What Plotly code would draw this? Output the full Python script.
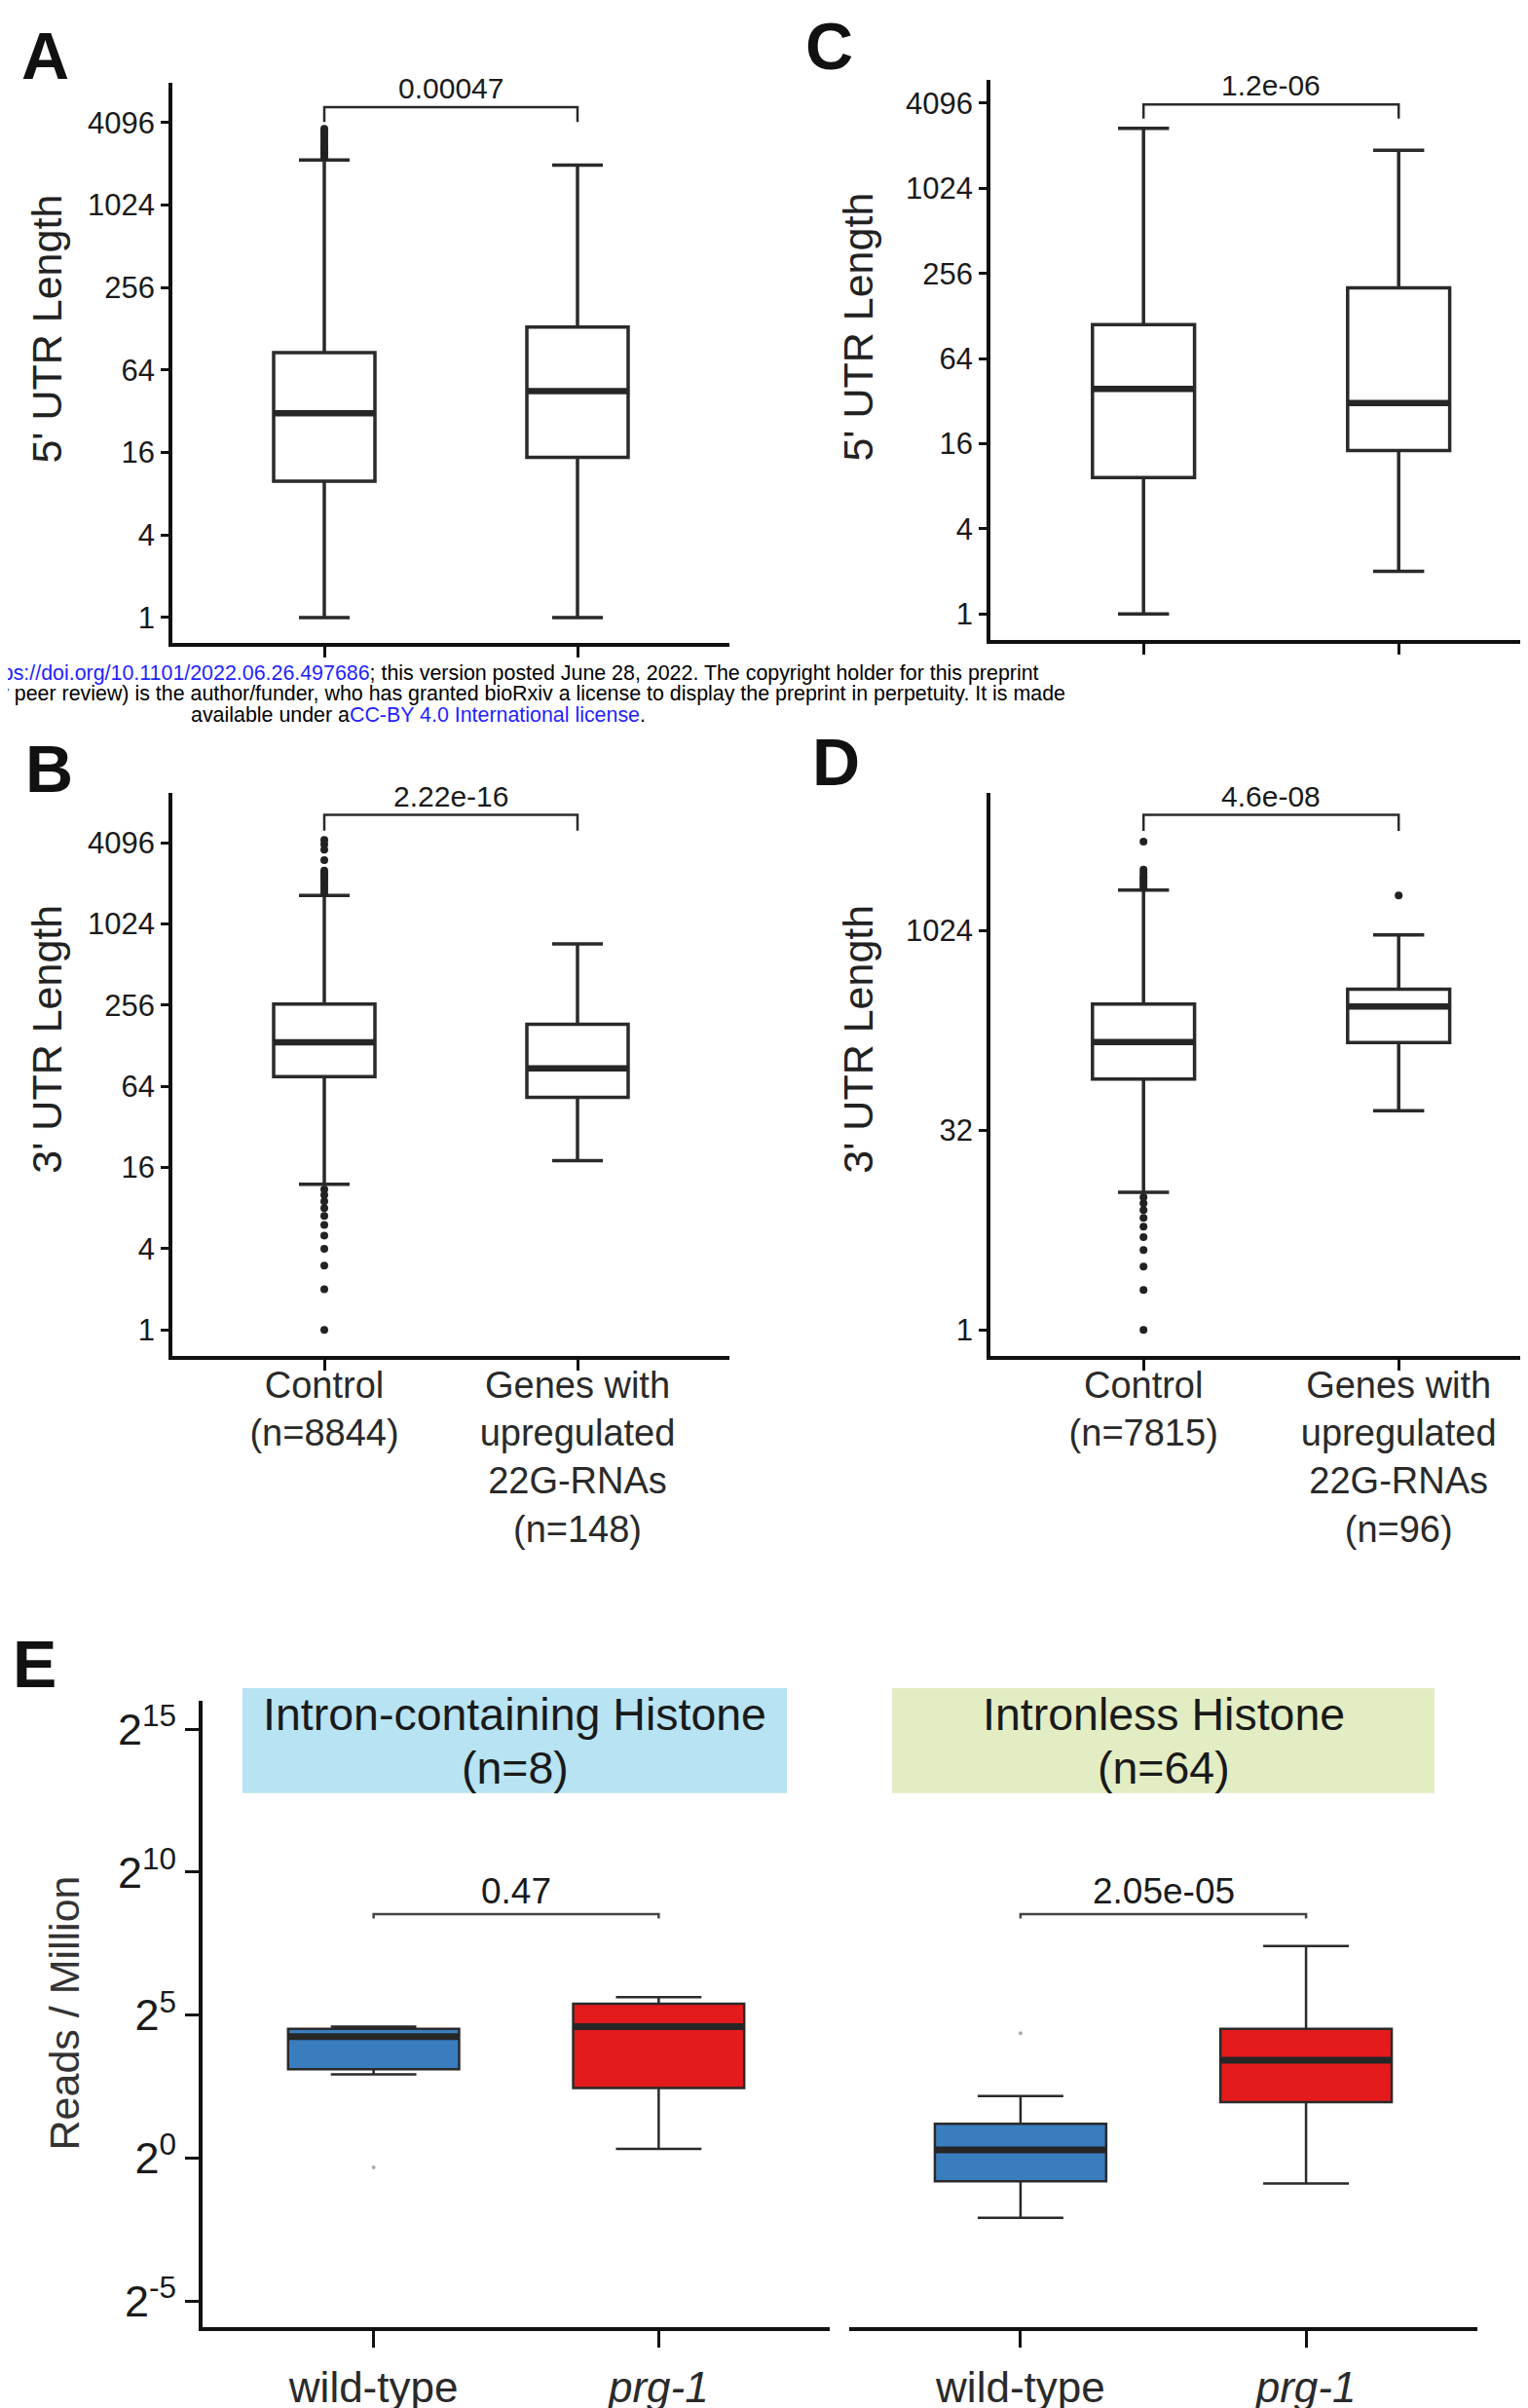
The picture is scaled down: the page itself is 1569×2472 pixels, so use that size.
import math
import plotly.graph_objects as go

# ---------------- DATA ----------------
# Panels A-D: two groups each
groups = ["Control", "Genes with upregulated 22G-RNAs"]

# A: 5' UTR length (set 1)
a_lower = [1, 1]
a_q1 = [9.9, 14.8]
a_median = [31, 45]
a_q3 = [86, 132]
a_upper = [2190, 2010]
a_out_ctrl = [2300, 2400, 2500, 2600, 2700, 2800, 2950, 3100, 3250, 3400, 3550, 3700]
a_out_g2 = []
a_p = "0.00047"

# C: 5' UTR length (set 2)
c_lower = [1, 2]
c_q1 = [9.2, 14.3]
c_median = [39, 31]
c_q3 = [111, 202]
c_upper = [2720, 1900]
c_p = "1.2e-06"

# B: 3' UTR length (set 1)
b_lower = [12, 18]
b_q1 = [75.6, 53]
b_median = [136, 87]
b_q3 = [261, 185]
b_upper = [1670, 730]
b_out_ctrl = [1, 2, 3, 4, 5, 6, 7, 8, 9, 10, 11,
              1750, 1850, 1950, 2050, 2150, 2250, 2350, 2450, 2550, 3050, 3650, 4000, 4300]
b_p = "2.22e-16"
b_labels = ["Control<br>(n=8844)", "Genes with<br>upregulated<br>22G-RNAs<br>(n=148)"]

# D: 3' UTR length (set 2)
d_lower = [10.9, 45]
d_q1 = [78, 147]
d_median = [148, 275]
d_q3 = [286, 370]
d_upper = [2070, 950]
d_out_ctrl = [1, 2, 3, 4, 5, 6, 7, 8, 9, 10,
              2150, 2250, 2350, 2450, 2550, 2650, 2800, 2950, 4800]
d_out_g2 = [1890]
d_p = "4.6e-08"
d_labels = ["Control<br>(n=7815)", "Genes with<br>upregulated<br>22G-RNAs<br>(n=96)"]

# E: histone reads per million (log2 values)
e_genotypes = ["wild-type", "<i>prg-1</i>"]
e1_lower_l2 = [2.93, 0.32]
e1_q1_l2 = [3.11, 2.45]
e1_median_l2 = [4.25, 4.6]
e1_q3_l2 = [4.52, 5.4]
e1_upper_l2 = [4.6, 5.63]
e1_out_l2 = [[-0.33], []]
e1_p = "0.47"
e2_lower_l2 = [-2.09, -0.89]
e2_q1_l2 = [-0.81, 1.96]
e2_median_l2 = [0.29, 3.42]
e2_q3_l2 = [1.2, 4.52]
e2_upper_l2 = [2.17, 7.42]
e2_out_l2 = [[4.37], []]
e2_p = "2.05e-05"
e_strips = ["Intron-containing Histone", "Intronless Histone"]
e_strip_n = ["(n=8)", "(n=64)"]

utr_ticks = [1, 4, 16, 64, 256, 1024, 4096]
d_ticks = [1, 32, 1024]
e_tick_exp = [-5, 0, 5, 10, 15]

# ---------------- LAYOUT HELPERS ----------------
W, H = 1569, 2472
FONT = "Liberation Sans, Arial, Helvetica, sans-serif"
L2 = math.log10(2)


def pxx(x):
    return x / W


def pxy(y):
    return 1 - y / H


fig = go.Figure()

BOX_LINE = "#2a2a2a"


def add_panel(xa, ya, lower, q1, med, q3, upper, width, fills, med_w, box_w,
              outliers=None, out_size=8, out_color="#222222"):
    for i in range(len(med)):
        pos = i + 1
        fig.add_trace(go.Box(
            x=[pos], q1=[q1[i]], median=[med[i]], q3=[q3[i]],
            lowerfence=[lower[i]], upperfence=[upper[i]],
            width=width, whiskerwidth=0.5, fillcolor=fills[i],
            line=dict(color=BOX_LINE, width=box_w),
            xaxis=xa, yaxis=ya, showlegend=False, hoverinfo="skip"))
        fig.add_trace(go.Scatter(
            x=[pos - width / 2, pos + width / 2], y=[med[i], med[i]],
            mode="lines", line=dict(color="#262626", width=med_w),
            xaxis=xa, yaxis=ya, showlegend=False, hoverinfo="skip"))
        if outliers and outliers[i]:
            fig.add_trace(go.Scatter(
                x=[pos] * len(outliers[i]), y=outliers[i], mode="markers",
                marker=dict(color=out_color, size=out_size),
                xaxis=xa, yaxis=ya, showlegend=False, hoverinfo="skip"))


def add_bracket(xa, ya, top, drop, label, size, color="#2a2a2a", lw=2.5):
    fig.add_trace(go.Scatter(
        x=[1, 1, 2, 2], y=[drop, top, top, drop], mode="lines",
        line=dict(color=color, width=lw),
        xaxis=xa, yaxis=ya, showlegend=False, hoverinfo="skip"))
    fig.add_annotation(x=1.5, y=math.log10(top), xref=xa, yref=ya,
                       text=label, showarrow=False, yanchor="bottom", yshift=1,
                       font=dict(family=FONT, size=size, color="#1a1a1a"))


white = ["white", "white"]
add_panel("x", "y", a_lower, a_q1, a_median, a_q3, a_upper, 0.4, white, 6.5, 3.5,
          outliers=[a_out_ctrl, a_out_g2])
add_bracket("x", "y", 2 ** 12.38, 2 ** 12.02, a_p, 30)

add_panel("x2", "y2", c_lower, c_q1, c_median, c_q3, c_upper, 0.4, white, 6.5, 3.5)
add_bracket("x2", "y2", 2 ** 11.97, 2 ** 11.64, c_p, 30)

add_panel("x3", "y3", b_lower, b_q1, b_median, b_q3, b_upper, 0.4, white, 6.5, 3.5,
          outliers=[b_out_ctrl, []])
add_bracket("x3", "y3", 2 ** 12.69, 2 ** 12.3, b_p, 30)

add_panel("x4", "y4", d_lower, d_q1, d_median, d_q3, d_upper, 0.4, white, 6.5, 3.5,
          outliers=[d_out_ctrl, d_out_g2])
add_bracket("x4", "y4", 2 ** 12.9, 2 ** 12.5, d_p, 30)

e_fill = ["#3a7dbf", "#e41a1c"]


def p2(v):
    return [2 ** t for t in v]


add_panel("x5", "y5", p2(e1_lower_l2), p2(e1_q1_l2), p2(e1_median_l2), p2(e1_q3_l2),
          p2(e1_upper_l2), 0.6, e_fill, 7, 2.5,
          outliers=[p2(o) for o in e1_out_l2], out_size=4, out_color="#aaaaaa")
add_bracket("x5", "y5", 2 ** 8.53, 2 ** 8.38, e1_p, 37, color="#444444", lw=2.5)
add_panel("x6", "y6", p2(e2_lower_l2), p2(e2_q1_l2), p2(e2_median_l2), p2(e2_q3_l2),
          p2(e2_upper_l2), 0.6, e_fill, 7, 2.5,
          outliers=[p2(o) for o in e2_out_l2], out_size=4, out_color="#aaaaaa")
add_bracket("x6", "y6", 2 ** 8.53, 2 ** 8.38, e2_p, 37, color="#444444", lw=2.5)

# ---------------- AXES ----------------
AX = "#111111"


def xaxis(domain, rng, labels, fsize, ticklen, lw=3.5, standoff=None):
    d = dict(domain=domain, range=rng, tickmode="array", tickvals=[1, 2],
             ticktext=labels, showline=True, linewidth=lw, linecolor=AX,
             ticks="outside", ticklen=ticklen, tickwidth=2.5, tickcolor=AX,
             showgrid=False, zeroline=False,
             tickfont=dict(family=FONT, size=fsize, color="#2a2a2a"))
    if standoff is not None:
        d["ticklabelstandoff"] = standoff
    return d


def yaxis(domain, rng_l2, tickvals, ticktext, fsize, anchor, ticklen=8, lw=3.5):
    return dict(domain=domain, type="log",
                range=[rng_l2[0] * L2, rng_l2[1] * L2],
                tickmode="array", tickvals=tickvals, ticktext=ticktext,
                showline=True, linewidth=lw, linecolor=AX,
                ticks="outside", ticklen=ticklen, tickwidth=2.5, tickcolor=AX,
                showgrid=False, zeroline=False, anchor=anchor,
                tickfont=dict(family=FONT, size=fsize, color="#1a1a1a"))


xl = [pxx(169), pxx(741)]
xr = [pxx(1009), 1.0]
rng_l = [0.4, 2.6]
rng_r = [0.4, 0.4 + 560 / 262]
yA = [pxy(650), pxy(74)]
yC = [pxy(647), pxy(71)]
yB = [pxy(1383), pxy(804)]
yE = [pxy(2381), pxy(1737)]

utr_text = [str(v) for v in utr_ticks]
fig.update_layout(
    xaxis=dict(xaxis(xl, rng_l, ["", ""], 26, 11), anchor="y"),
    yaxis=yaxis(yA, (-0.62, 12.97), utr_ticks, utr_text, 31, "x"),
    xaxis2=dict(xaxis(xr, rng_r, ["", ""], 26, 11), anchor="y2"),
    yaxis2=yaxis(yC, (-0.62, 12.55), utr_ticks, utr_text, 31, "x2"),
    xaxis3=dict(xaxis(xl, rng_l, b_labels, 38, 11, standoff=-18), anchor="y3"),
    yaxis3=yaxis(yB, (-0.65, 13.23), utr_ticks, utr_text, 31, "x3"),
    xaxis4=dict(xaxis(xr, rng_r, d_labels, 38, 11, standoff=-18), anchor="y4"),
    yaxis4=yaxis(yB, (-0.66, 13.45), d_ticks, [str(v) for v in d_ticks], 31, "x4"),
    xaxis5=dict(xaxis([pxx(200), pxx(844)], rng_l, e_genotypes, 44, 17, lw=4, standoff=3),
                anchor="y5"),
    yaxis5=yaxis(yE, (-5.92, 16.0), [2 ** e for e in e_tick_exp],
                 ["2<sup>%d</sup>" % e for e in e_tick_exp], 45, "x5", ticklen=14, lw=4),
    xaxis6=dict(xaxis([pxx(864), pxx(1509)], rng_l, e_genotypes, 44, 17, lw=4, standoff=3),
                anchor="y6"),
    yaxis6=dict(yaxis(yE, (-5.92, 16.0), [2 ** e for e in e_tick_exp],
                      ["" for e in e_tick_exp], 40, "x6"), showline=False, ticks=""),
)

# ---------------- TEXT / DECORATIONS ----------------
def ann(x, y, text, size, color="#111111", angle=0, bold=False, xanchor="center"):
    fig.add_annotation(x=pxx(x), y=pxy(y), xref="paper", yref="paper",
                       text=("<b>%s</b>" % text) if bold else text,
                       showarrow=False, textangle=angle, xanchor=xanchor,
                       yanchor="middle",
                       font=dict(family=FONT, size=size, color=color))


for letter, (lx, ly) in zip("ACBDE", [(38, 46), (843, 36), (42, 779), (851, 772), (27, 1699)]):
    ann(lx, ly, letter, 68, bold=True)

ann(40, 327, "5' UTR Length", 43, color="#222222", angle=-90)
ann(873, 325, "5' UTR Length", 43, color="#222222", angle=-90)
ann(40, 1057, "3' UTR Length", 43, color="#222222", angle=-90)
ann(873, 1057, "3' UTR Length", 43, color="#222222", angle=-90)
ann(58, 2058, "Reads / Million", 43, color="#333333", angle=-90)

# facet strips
strip_cols = ["#b8e3f3", "#e3edc3"]
strip_x = [(241, 800), (908, 1465)]
for (x0, x1), col, t1, t2 in zip(strip_x, strip_cols, e_strips, e_strip_n):
    fig.add_shape(type="rect", xref="paper", yref="paper",
                  x0=pxx(x0), x1=pxx(x1), y0=pxy(1832), y1=pxy(1724),
                  fillcolor=col, line=dict(width=0), layer="below")
    ann((x0 + x1) / 2, 1751, t1, 46.5, color="#1a1a1a")
    ann((x0 + x1) / 2, 1806, t2, 46.5, color="#1a1a1a")

# bioRxiv watermark lines
BLUE = "#1f1fff"
fig.add_annotation(x=pxx(1061), y=pxy(681), xref="paper", yref="paper", showarrow=False,
                   xanchor="right", yanchor="middle",
                   text="<span style='color:%s'>https://doi.org/10.1101/2022.06.26.497686</span>"
                        "; this version posted June 28, 2022. The copyright holder for this preprint" % BLUE,
                   font=dict(family=FONT, size=21.4, color="#000000"))
fig.add_annotation(x=pxx(1088), y=pxy(702), xref="paper", yref="paper", showarrow=False,
                   xanchor="right", yanchor="middle",
                   text="(which was not certified by peer review) is the author/funder, who has granted "
                        "bioRxiv a license to display the preprint in perpetuity. It is made",
                   font=dict(family=FONT, size=21.4, color="#000000"))
fig.add_annotation(x=pxx(421), y=pxy(724), xref="paper", yref="paper", showarrow=False,
                   xanchor="center", yanchor="middle",
                   text="available under a<span style='color:%s'>CC-BY 4.0 International license</span>." % BLUE,
                   font=dict(family=FONT, size=21.4, color="#000000"))

fig.update_layout(
    width=W, height=H, margin=dict(l=0, r=0, t=0, b=0),
    paper_bgcolor="white", plot_bgcolor="white",
    showlegend=False, boxmode="overlay",
)

fig.write_html("out.html")
